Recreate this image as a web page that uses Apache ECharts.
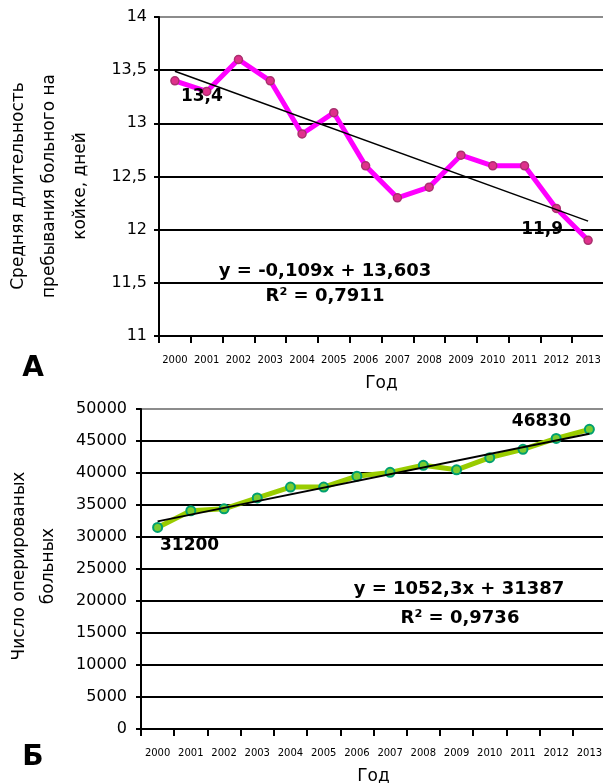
<!DOCTYPE html>
<html>
<head>
<meta charset="utf-8">
<script src="https://cdn.jsdelivr.net/npm/echarts@6/dist/echarts.min.js"></script>
<style>
  html, body { margin: 0; padding: 0; background: #fff; }
  #chart { width: 603px; height: 783px; }
</style>
</head>
<body>
<div id="chart"></div>
<script>
// Годы (общая ось X для обоих графиков)
const years = ['2000', '2001', '2002', '2003', '2004', '2005', '2006',
  '2007', '2008', '2009', '2010', '2011', '2012', '2013'];

// А: средняя длительность пребывания больного на койке, дней
const stayDays = [13.4, 13.3, 13.6, 13.4, 12.9, 13.1, 12.6, 12.3, 12.4, 12.7, 12.6, 12.6, 12.2, 11.9];
const stayTrend = [13.49, 12.08];          // линия тренда: 2000 и 2013
const stayTicks = [11, 14, 0.5];           // min, max, шаг
const stayEquation = ['y = -0,109x + 13,603', 'R² = 0,7911'];

// Б: число оперированных больных
const operated = [31500, 34100, 34400, 36100, 37800, 37800, 39500, 40100, 41200, 40500, 42400, 43700, 45400, 46830];
const operatedTrend = [32440, 46120];      // линия тренда: 2000 и 2013
const operatedTicks = [0, 50000, 5000];
const operatedLabels = ['31200', '46830'];
const operatedEquation = ['y = 1052,3x + 31387', 'R² = 0,9736'];

const FONT = 'DejaVu Sans';
const chart = echarts.init(document.getElementById('chart'));

const comma = v => String(v).replace('.', ',');

// серые верхние линии сетки, остальные чёрные
function gridColors(ticks) {
  const n = Math.round((ticks[1] - ticks[0]) / ticks[2]) + 1;
  const arr = [];
  for (let i = 0; i < n; i++) arr.push(i === n - 1 ? '#8c8c8c' : '#000');
  return arr;
}

function xAxis(gridIndex, nameGap) {
  return {
    type: 'category',
    gridIndex: gridIndex,
    data: years,
    boundaryGap: true,
    axisLine: { lineStyle: { color: '#000', width: 2 } },
    axisTick: { show: true, length: 7, lineStyle: { color: '#000', width: 2 } },
    axisLabel: { fontFamily: FONT, fontSize: 10, color: '#000', margin: 19, interval: 0 },
    name: 'Год',
    nameLocation: 'middle',
    nameGap: nameGap,
    nameTextStyle: { fontFamily: FONT, fontSize: 17, color: '#000' }
  };
}

function yAxis(gridIndex, ticks, fmt, margin) {
  return {
    type: 'value',
    gridIndex: gridIndex,
    min: ticks[0],
    max: ticks[1],
    interval: ticks[2],
    axisLine: { show: true, lineStyle: { color: '#000', width: 2 } },
    axisTick: { show: true, length: 5, lineStyle: { color: '#000', width: 2 } },
    axisLabel: { fontFamily: FONT, fontSize: 16, color: '#000', margin: margin, formatter: fmt },
    splitLine: { show: true, lineStyle: { color: gridColors(ticks), width: 2 } }
  };
}

function textEl(x, y, text, size, bold, rotation, lineHeight) {
  return {
    type: 'text',
    x: x,
    y: y,
    rotation: rotation || 0,
    style: {
      text: text,
      fontFamily: FONT,
      fontSize: size,
      fontWeight: bold ? 'bold' : 'normal',
      fill: '#000',
      align: 'center',
      verticalAlign: 'middle',
      lineHeight: lineHeight || Math.round(size * 1.2)
    }
  };
}

const valueLabel = {
  show: true,
  position: 'inside',
  fontFamily: FONT,
  fontSize: 17,
  fontWeight: 'bold',
  color: '#000'
};

const stayData = stayDays.map((v, i) => {
  if (i === 0) return { value: v, label: Object.assign({}, valueLabel, { offset: [27, 16], formatter: p => comma(p.value) }) };
  if (i === stayDays.length - 1) return { value: v, label: Object.assign({}, valueLabel, { offset: [-46, -11], formatter: p => comma(p.value) }) };
  return v;
});

const operatedData = operated.map((v, i) => {
  if (i === 0) return { value: v, label: Object.assign({}, valueLabel, { offset: [32, 18], formatter: operatedLabels[0] }) };
  if (i === operated.length - 1) return { value: v, label: Object.assign({}, valueLabel, { offset: [-48, -8], formatter: operatedLabels[1] }) };
  return v;
});

const option = {
  animation: false,
  backgroundColor: '#fff',
  grid: [
    { left: 159, right: -1, top: 17, height: 319, outerBoundsMode: 'none' },
    { left: 141, right: -3, top: 409, height: 320, outerBoundsMode: 'none' }
  ],
  xAxis: [xAxis(0, 39), xAxis(1, 39)],
  yAxis: [
    yAxis(0, stayTicks, v => comma(v), 12),
    yAxis(1, operatedTicks, v => String(v), 14)
  ],
  series: [
    {
      type: 'line',
      xAxisIndex: 0,
      yAxisIndex: 0,
      data: stayData,
      symbol: 'circle',
      symbolSize: 8,
      lineStyle: { color: '#ff00ff', width: 5 },
      itemStyle: { color: '#e0308c', borderColor: '#a8306e', borderWidth: 1.5 },
      z: 3,
      markLine: {
        silent: true,
        symbol: 'none',
        label: { show: false },
        lineStyle: { color: '#000', width: 1.5, type: 'solid' },
        data: [[{ coord: [years[0], stayTrend[0]] }, { coord: [years[years.length - 1], stayTrend[1]] }]]
      }
    },
    {
      type: 'line',
      xAxisIndex: 1,
      yAxisIndex: 1,
      data: operatedData,
      symbol: 'circle',
      symbolSize: 9,
      lineStyle: { color: '#99cc00', width: 5 },
      itemStyle: { color: '#7acc30', borderColor: '#00a070', borderWidth: 2 },
      z: 3,
      markLine: {
        silent: true,
        symbol: 'none',
        label: { show: false },
        lineStyle: { color: '#000', width: 2, type: 'solid' },
        data: [[{ coord: [years[0], operatedTrend[0]] }, { coord: [years[years.length - 1], operatedTrend[1]] }]]
      }
    }
  ],
  graphic: [
    textEl(325, 271, stayEquation[0], 18, true),
    textEl(325, 296, stayEquation[1], 18, true),
    textEl(459, 589, operatedEquation[0], 18, true),
    textEl(460, 618, operatedEquation[1], 18, true),
    textEl(33, 369, 'А', 28, true),
    textEl(33, 758, 'Б', 28, true),
    textEl(50, 186, 'Средняя длительность\nпребывания больного на\nкойке, дней', 17, false, Math.PI / 2, 31),
    textEl(34, 566, 'Число оперированых\nбольных', 17, false, Math.PI / 2, 29)
  ]
};

chart.setOption(option);
</script>
</body>
</html>
